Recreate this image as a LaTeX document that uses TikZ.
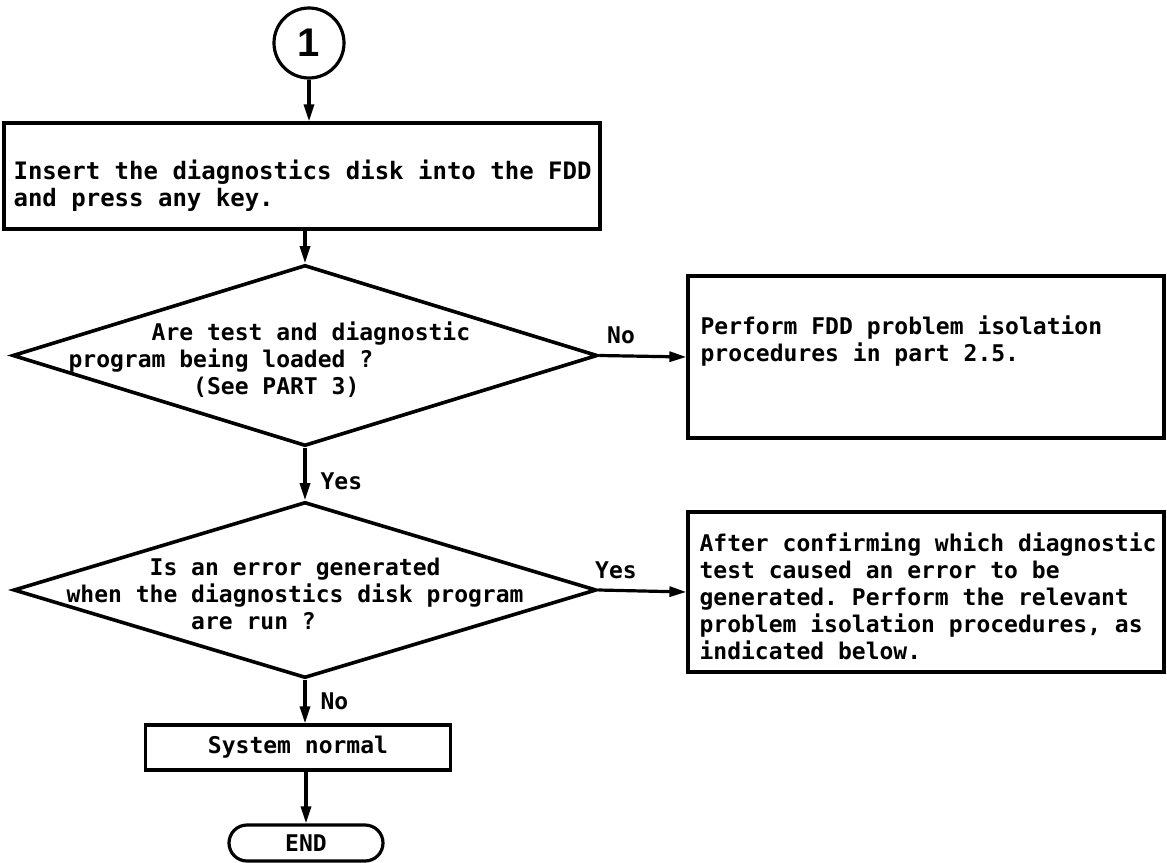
\documentclass[tikz,border=0pt]{standalone}
\usepackage{fontspec}
\setmonofont{DejaVu Sans Mono}
\newfontfamily\numfont{Liberation Sans}
\usetikzlibrary{positioning,arrows.meta,shapes.geometric,shapes.misc}
% indent by a number of character cells of the current (mono) font
\newcommand\pad[1]{\hspace*{#1\fontcharwd\font`\0}}

\begin{document}
\begin{tikzpicture}[x=0.5pt, y=-0.5pt, line width=1.6pt,
  font=\ttfamily\bfseries\fontsize{11.5}{13.5}\selectfont,
  box/.style={draw, rectangle, inner sep=0pt},
  txt/.style={inner sep=0pt, align=left, anchor=west},
  cond/.style={draw, diamond, inner sep=0pt, line width=1.8pt},
  lbl/.style={inner sep=2pt},
  arr/.style={-{Triangle[length=8.5pt,width=5pt]}}]
  \useasboundingbox (0,0) rectangle (1167,862);
  % --- entry point and first step
  \node[draw, circle, minimum size=35pt, inner sep=0pt,
        font=\numfont\bfseries\fontsize{20}{20}\selectfont] (start) at (309,43) {1};
  \node[box, minimum width=298pt, minimum height=53pt] (ins) at (302,176) {};
  \node[txt, font=\ttfamily\bfseries\fontsize{12}{13.5}\selectfont] (instxt) at (12,186)
    {Insert the diagnostics disk into the FDD\\and press any key.};
  % --- first decision
  \node[cond, minimum width=292.5pt, minimum height=90.5pt] (load) at (305,355.5) {};
  \node[txt] (loadtxt) at (67,360) {\pad{6}Are test and diagnostic\\program being loaded ?\\\pad{9}(See PART 3)};
  \node[box, minimum width=238pt, minimum height=81pt] (fdd) at (926,357) {};
  \node[txt] (fddtxt) at (699,341) {Perform FDD problem isolation\\procedures in part 2.5.};
  % --- second decision
  \node[cond, minimum width=291.5pt, minimum height=88pt] (errq) at (305,590) {};
  \node[txt] (errqtxt) at (65,594) {\pad{6}Is an error generated\\when the diagnostics disk program\\\pad{9}are run ?};
  \node[box, minimum width=238pt, minimum height=80pt] (iso) at (926,592) {};
  \node[txt] (isotxt) at (698,596) {After confirming which diagnostic\\test caused an error to be\\generated. Perform the relevant\\problem isolation procedures, as\\indicated below.};
  % --- normal exit
  \node[box, minimum width=152.5pt, minimum height=22.5pt] (ok) at (298,747.5) {System normal};
  \node[draw, rounded rectangle, minimum width=77pt, minimum height=18pt, inner sep=0pt] (fin) at (306,843) {END};
  % --- flow
  \draw[arr] (start) -- (start |- ins.north);
  \draw[arr] (ins.south -| load.north) -- (load.north);
  \draw[arr] (load.east) -- node[lbl, above=3pt, pos=0.25] (no1) {No} (fdd.west);
  \draw[arr] (load.south) -- node[lbl, right=5pt, pos=0.64] (yes1) {Yes} (errq.north);
  \draw[arr] (errq.east) -- node[lbl, above=3pt, pos=0.2] (yes2) {Yes} (iso.west);
  \draw[arr] (errq.south) -- node[lbl, right=5pt, pos=0.5] (no2) {No} (errq.south |- ok.north);
  \draw[arr] (ok.south -| fin.north) -- (fin.north);
\end{tikzpicture}
\end{document}
